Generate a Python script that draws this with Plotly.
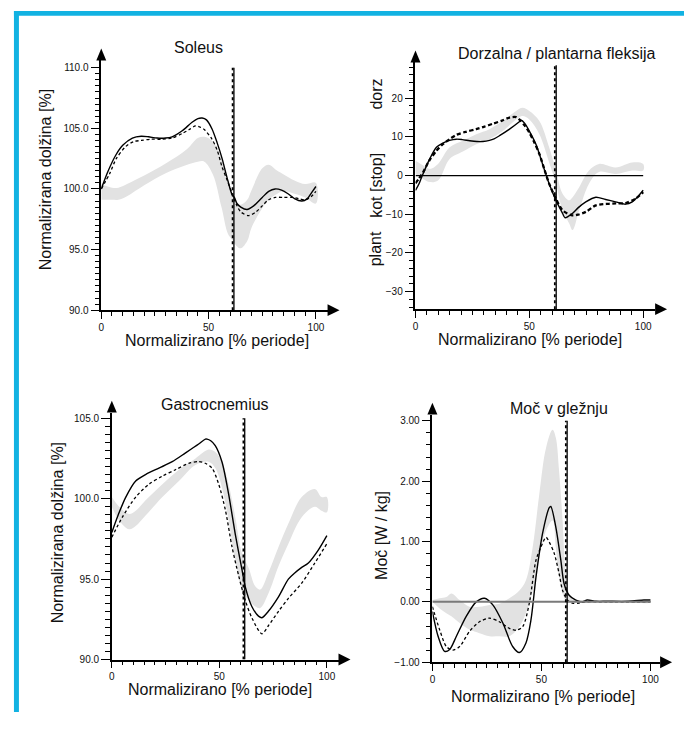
import plotly.graph_objects as go

W, H = 684, 730
FONT = "Liberation Sans, Arial, sans-serif"

# ---------------- data ----------------
# Soleus
sol_solid_x = [0, 3, 6.8, 10, 14.5, 18.6, 22, 26, 30, 33, 37.7, 42.3, 45, 47, 49, 51.6, 54, 56.3, 58.5, 61, 62, 63.2, 65, 67.9, 71, 75, 78, 81, 84, 87, 90, 93.4, 96, 98, 100]
sol_solid_y = [100.0, 101.4, 102.8, 103.6, 104.2, 104.35, 104.3, 104.2, 104.2, 104.3, 104.8, 105.5, 105.8, 105.85, 105.7, 104.95, 103.8, 102.5, 101.0, 99.5, 99.3, 98.8, 98.5, 98.3, 98.6, 99.3, 99.8, 100.0, 99.9, 99.6, 99.2, 99.0, 99.2, 99.7, 100.2]
sol_dash_x = [0, 4, 7, 11.4, 15, 18.6, 23, 28, 33, 38, 41, 43.9, 46, 48, 51.6, 54, 56.3, 58.5, 61, 63, 65, 68.6, 72, 75, 77.9, 81, 85, 89, 92, 95, 98, 100]
sol_dash_y = [100.0, 101.3, 102.5, 103.5, 103.9, 104.0, 104.1, 104.1, 104.2, 104.6, 104.9, 105.2, 105.1, 104.9, 104.1, 103.2, 101.8, 100.8, 99.6, 98.7, 98.1, 97.8, 98.1, 98.6, 99.1, 99.3, 99.3, 99.3, 99.2, 99.1, 99.4, 99.8]
sol_band_x = [0, 5, 8, 12, 20, 30, 40, 45, 48, 52, 56, 59, 61, 63, 65, 68, 70, 75, 78, 82, 85, 90, 95, 100]
sol_band_hi = [100.4, 100.1, 100.1, 100.4, 101.1, 102.1, 103.3, 104.2, 104.3, 103.9, 102.5, 100.5, 99.5, 98.9, 98.7, 99.1, 99.9, 101.7, 102.0, 101.5, 101.2, 100.7, 100.4, 100.5]
sol_band_lo = [99.1, 99.1, 99.1, 99.4, 100.3, 101.3, 102.0, 102.25, 102.25, 101.2, 98.5, 96.3, 95.8, 95.3, 95.1, 95.7, 96.8, 98.4, 99.1, 99.6, 99.8, 99.6, 99.3, 98.8]

# Dorzalna / plantarna fleksija
dor_solid_x = [0, 1.5, 3, 6, 9.2, 12, 15, 17.9, 20.5, 23.8, 27, 29.6, 32.5, 34.5, 36.9, 41.3, 45.6, 46.4, 48, 50, 52.9, 55.8, 58.7, 61.7, 64.6, 65.7, 68.9, 71.5, 74.8, 79.2, 83.5, 87.9, 92.3, 95.2, 98, 100]
dor_solid_y = [-3.85, -2.2, 0.0, 4.0, 7.3, 8.4, 9.1, 9.4, 9.3, 9.0, 8.8, 8.8, 9.1, 9.5, 10.3, 12.0, 13.9, 14.3, 13.5, 11.5, 8.1, 3.0, -2.1, -6.4, -9.8, -10.9, -9.8, -8.3, -6.8, -5.6, -6.2, -6.8, -7.4, -6.8, -5.2, -3.8]
dor_dash_x = [0, 1.5, 3.4, 6, 9.2, 12, 15, 17.9, 22, 26.7, 30, 34, 38, 41.3, 44.2, 45.6, 48, 50, 52, 54.4, 56.5, 58.7, 61.7, 64.6, 68.9, 71.5, 74.8, 79.2, 85, 88, 92.3, 96.6, 100]
dor_dash_y = [-2.0, -0.8, 0.9, 3.8, 6.4, 8.1, 9.4, 10.5, 11.3, 12.0, 12.6, 13.4, 14.2, 15.0, 15.1, 14.5, 12.9, 11.1, 8.8, 5.6, 1.8, -2.1, -6.0, -9.0, -10.3, -10.1, -9.4, -7.7, -7.3, -7.2, -7.1, -6.0, -4.3]
dor_band_x = [0, 3.4, 6.3, 9.9, 15, 20.8, 26.7, 32.5, 38.3, 44.2, 47, 50, 54.4, 58.7, 61.7, 64.6, 67.5, 69, 71.9, 76.2, 80.6, 87.9, 95.2, 100]
dor_band_hi = [3.8, 2.6, 1.7, 3.0, 7.3, 9.0, 10.7, 12.0, 14.1, 16.7, 17.5, 16.7, 14.1, 7.3, 1.3, -4.7, -6.4, -5.6, -3.0, 1.3, 3.0, 2.1, 3.4, 3.0]
dor_band_lo = [0.4, -0.9, -1.7, -1.3, 4.3, 6.2, 8.1, 9.4, 11.5, 14.5, 15.4, 14.5, 10.7, 3.4, -2.1, -9.0, -12.4, -14.1, -9.0, -2.1, 0.9, 0.4, 1.3, 1.3]

# Gastrocnemius
gas_solid_x = [0, 3, 6.5, 11.1, 15.7, 21.9, 28.1, 34.3, 40.4, 43.5, 44.3, 46, 48.1, 51.2, 54.3, 57.4, 60.5, 62, 65.1, 68.2, 69.8, 72.8, 77.5, 82.1, 85.2, 88, 91.4, 96, 100]
gas_solid_y = [97.9, 99.0, 100.1, 101.1, 101.5, 101.9, 102.3, 102.85, 103.4, 103.7, 103.7, 103.6, 103.3, 102.3, 100.3, 97.8, 95.6, 94.55, 93.3, 92.7, 92.6, 93.0, 93.9, 95.0, 95.4, 95.7, 96.0, 96.8, 97.7]
gas_dash_x = [0, 4.9, 11.1, 17.3, 23.5, 29.6, 35.8, 40.4, 43.5, 46.6, 49.7, 52.8, 55.9, 59, 62, 65.1, 69.8, 72.8, 77.5, 82.1, 88.3, 94.4, 100]
gas_dash_y = [97.6, 98.85, 100.1, 100.9, 101.4, 101.8, 102.2, 102.3, 102.2, 101.9, 100.9, 99.3, 97.0, 95.2, 93.7, 92.6, 91.6, 92.1, 93.0, 93.8, 94.75, 96.0, 97.2]
gas_band_x = [0, 3.4, 8, 11.1, 15.7, 23.5, 31.2, 38.9, 45, 48.1, 51.2, 54.3, 57.4, 60.5, 63.6, 66.7, 69, 72.8, 77.5, 82.1, 88.3, 94.4, 97.5, 100]
gas_band_hi = [100.1, 99.5, 99.05, 99.25, 99.9, 100.9, 101.8, 102.5, 103.05, 102.9, 102.3, 100.9, 98.85, 96.6, 95.7, 94.55, 94.35, 95.4, 97.0, 98.45, 100.1, 100.6, 100.1, 100.1]
gas_band_lo = [99.5, 98.65, 98.1, 98.3, 98.95, 100.1, 101.1, 102.1, 102.3, 101.9, 100.7, 98.65, 96.2, 94.35, 93.7, 93.3, 93.2, 94.1, 95.8, 97.2, 98.85, 99.5, 99.25, 99.15]

# Moč v gležnju
pow_solid_x = [0, 2.6, 5.6, 7.9, 11, 15.5, 20.1, 23.9, 27.7, 32.3, 36.8, 39.9, 42.9, 45.2, 47.5, 50.5, 53.6, 54.3, 56.6, 58.9, 60.4, 62.7, 65.8, 68.8, 71, 75, 80, 90, 97, 100]
pow_solid_y = [-0.16, -0.57, -0.82, -0.79, -0.57, -0.24, 0.0, 0.06, -0.05, -0.35, -0.74, -0.84, -0.68, -0.3, 0.41, 1.13, 1.56, 1.58, 1.24, 0.69, 0.30, 0.11, 0.03, 0.0, 0.03, 0.01, 0.01, 0.01, 0.03, 0.03]
pow_dash_x = [0, 3.3, 6.4, 9.4, 12.5, 17, 21.6, 26.2, 30.7, 35.3, 38.4, 41.4, 44.4, 47.5, 49.8, 52.1, 53.6, 55.9, 58.1, 59.7, 61.9, 64.2, 67.3, 70, 80, 100]
pow_dash_y = [-0.08, -0.46, -0.74, -0.80, -0.74, -0.49, -0.33, -0.27, -0.33, -0.44, -0.47, -0.41, -0.03, 0.69, 0.91, 1.07, 0.99, 0.8, 0.47, 0.19, 0.03, -0.02, -0.02, 0.0, 0.0, 0.0]
pow_band_x = [0, 3.3, 6.4, 8.7, 12.5, 17, 21.6, 26.2, 30.7, 35.3, 39.9, 42.9, 46, 49, 52.1, 55.1, 56.6, 58.1, 59.7, 61.2, 63.5, 66, 70, 80, 90, 100]
pow_band_hi = [0.03, 0.06, 0.08, 0.14, 0.03, -0.08, -0.08, -0.05, -0.03, 0.06, 0.19, 0.36, 0.91, 1.78, 2.55, 2.85, 2.72, 2.17, 1.35, 0.47, 0.08, 0.03, 0.02, 0.02, 0.02, 0.02]
pow_band_lo = [0.0, -0.11, -0.19, -0.24, -0.35, -0.46, -0.52, -0.57, -0.57, -0.57, -0.41, -0.19, 0.19, 0.74, 1.18, 1.35, 0.91, 0.41, 0.14, 0.03, 0.0, -0.01, -0.01, -0.01, -0.01, -0.01]

toe_off_solid = 61.8
toe_off_dashed = 61.2

titles = ["Soleus", "Dorzalna / plantarna fleksija", "Gastrocnemius", "Moč v gležnju"]
xtitle = "Normalizirano [% periode]"

# ---------------- layout geometry (pixels) ----------------
panels = [
    dict(px0=98.7, px100=314.3, pa=312.7, va=90, pb=68.3, vb=110, ybot=312.7, ytop=61, xr=326),
    dict(px0=414.3, px100=643.0, pa=294.0, va=-30, pb=99.0, vb=20, ybot=311.7, ytop=63, xr=655),
    dict(px0=109.3, px100=325.3, pa=665.0, va=90, pb=421.7, vb=105, ybot=665.0, ytop=416, xr=337),
    dict(px0=431.3, px100=650.3, pa=667.7, va=-1, pb=424.3, vb=3, ybot=667.7, ytop=418, xr=660),
]

fig = go.Figure()
layout = dict(width=W, height=H, margin=dict(l=0, r=0, t=0, b=0),
              paper_bgcolor="white", plot_bgcolor="white", showlegend=False,
              font=dict(family=FONT, color="#111111"))
shapes = []
annotations = []

def px2x(p):
    return p / W

def px2y(p):
    return 1 - p / H

ytick_major = [[90, 95, 100, 105, 110], [-30, -20, -10, 0, 10, 20], [90, 95, 100, 105], [-1, 0, 1, 2, 3]]
ytick_minor = [
    [90 + 0.5 * i for i in range(41) if (i % 10) != 0],
    [v for v in range(-34, 29, 2) if v % 10 != 0],
    [90 + 0.5 * i for i in range(31) if (i % 10) != 0],
    [round(-1 + 0.2 * i, 2) for i in range(21) if (i % 5) != 0],
]
yfmt = [".1f", "d", ".1f", ".2f"]
xminor = [v for v in range(5, 100, 5) if v != 50]

series = [
    (sol_band_x, sol_band_hi, sol_band_lo, sol_solid_x, sol_solid_y, sol_dash_x, sol_dash_y),
    (dor_band_x, dor_band_hi, dor_band_lo, dor_solid_x, dor_solid_y, dor_dash_x, dor_dash_y),
    (gas_band_x, gas_band_hi, gas_band_lo, gas_solid_x, gas_solid_y, gas_dash_x, gas_dash_y),
    (pow_band_x, pow_band_hi, pow_band_lo, pow_solid_x, pow_solid_y, pow_dash_x, pow_dash_y),
]
vline_top = [110, 28.5, 105, 3.0]

for i, p in enumerate(panels):
    k = "" if i == 0 else str(i + 1)
    ux = (p["px100"] - p["px0"]) / 100.0
    uy = (p["pa"] - p["pb"]) / (p["vb"] - p["va"])
    xrange_ = [0, (p["xr"] - p["px0"]) / ux]
    yrange_ = [p["va"] - (p["ybot"] - p["pa"]) / uy, p["vb"] + (p["pb"] - p["ytop"]) / uy]
    layout["xaxis" + k] = dict(
        domain=[px2x(p["px0"]), px2x(p["xr"])], range=xrange_, anchor="y" + k,
        showgrid=False, zeroline=False, showline=True, linecolor="black", linewidth=1.5,
        tickmode="array", tickvals=[0, 50, 100], ticks="outside", ticklen=7, tickwidth=1.3,
        tickcolor="black", tickfont=dict(size=10, family=FONT, color="#111"),
        minor=dict(tickmode="array", tickvals=xminor, ticks="outside", ticklen=4,
                   tickwidth=1.2, tickcolor="black"),
        fixedrange=True)
    layout["yaxis" + k] = dict(
        domain=[px2y(p["ybot"]), px2y(p["ytop"])], range=yrange_, anchor="x" + k,
        showgrid=False, zeroline=False, showline=True, linecolor="black", linewidth=1.5,
        tickmode="array", tickvals=ytick_major[i], tickformat=yfmt[i], ticks="outside",
        ticklen=9, tickwidth=1.3, tickcolor="black",
        tickfont=dict(size=10, family=FONT, color="#111"),
        minor=dict(tickmode="array", tickvals=ytick_minor[i], ticks="outside", ticklen=5,
                   tickwidth=1.2, tickcolor="black"),
        fixedrange=True)

    bx, bhi, blo, sx, sy, dx, dy = series[i]
    xa, ya = "x" + k, "y" + k
    fig.add_trace(go.Scatter(x=list(bx) + list(bx)[::-1], y=list(bhi) + list(blo)[::-1],
                             fill="toself", fillcolor="#e2e2e2", line=dict(width=0, shape="spline"),
                             mode="lines", hoverinfo="skip", xaxis=xa, yaxis=ya))
    if i == 1:
        shapes.append(dict(type="line", xref=xa, yref=ya, x0=0, x1=100, y0=0, y1=0,
                           line=dict(color="black", width=1.2)))
    if i == 3:
        shapes.append(dict(type="line", xref=xa, yref=ya, x0=0, x1=100, y0=0, y1=0,
                           line=dict(color="#7a7a7a", width=2)))
    dash_w = 2.3 if i == 1 else 1.3
    dash_pat = "4px,2.5px" if i == 1 else "3px,2.5px"
    fig.add_trace(go.Scatter(x=dx, y=dy, mode="lines", xaxis=xa, yaxis=ya,
                             line=dict(color="black", width=dash_w, dash=dash_pat,
                                       shape="spline", smoothing=0.8)))
    fig.add_trace(go.Scatter(x=sx, y=sy, mode="lines", xaxis=xa, yaxis=ya,
                             line=dict(color="black", width=1.4, shape="spline", smoothing=0.8)))
    shapes.append(dict(type="line", xref=xa, yref=ya, x0=toe_off_dashed, x1=toe_off_dashed,
                       y0=yrange_[0], y1=vline_top[i], line=dict(color="black", width=1.8, dash="dot")))
    shapes.append(dict(type="line", xref=xa, yref=ya, x0=toe_off_solid, x1=toe_off_solid,
                       y0=yrange_[0], y1=vline_top[i], line=dict(color="black", width=1.3)))
    x0p, yb, yt, xr = p["px0"], p["ybot"], p["ytop"], p["xr"]
    shapes.append(dict(type="path", xref="paper", yref="paper", fillcolor="black",
                       line=dict(width=0),
                       path=f"M {px2x(x0p-5)},{px2y(yt)} L {px2x(x0p+5)},{px2y(yt)} L {px2x(x0p)},{px2y(yt-12)} Z"))
    shapes.append(dict(type="path", xref="paper", yref="paper", fillcolor="black",
                       line=dict(width=0),
                       path=f"M {px2x(xr)},{px2y(yb-6)} L {px2x(xr)},{px2y(yb+6)} L {px2x(xr+12)},{px2y(yb)} Z"))

def ann(text, px, py, angle=0, size=16, xanchor="center"):
    annotations.append(dict(text=text, x=px2x(px), y=px2y(py), xref="paper", yref="paper",
                            showarrow=False, textangle=angle, xanchor=xanchor, yanchor="middle",
                            font=dict(size=size, family=FONT, color="#111")))

ann(titles[0], 196, 48)
ann(titles[1], 556, 54)
ann(titles[2], 212.5, 408)
ann(titles[3], 558, 412)
ann(xtitle, 215, 343)
ann(xtitle, 529, 342)
ann(xtitle, 218, 695)
ann(xtitle, 542, 702)
ann("Normalizirana dolžina [%]", 43, 181, angle=-90)
ann("Normalizirana dolžina [%]", 55, 537, angle=-90)
ann("Moč [W / kg]", 380, 540, angle=-90)
ann("dorz", 375, 95, angle=-90)
ann("kot [stop]", 375, 187, angle=-90)
ann("plant", 375, 251, angle=-90)

shapes.append(dict(type="rect", xref="paper", yref="paper", x0=px2x(11), x1=px2x(684),
                   y0=px2y(16), y1=px2y(11), fillcolor="#12b2e2", line=dict(width=0), layer="above"))
shapes.append(dict(type="rect", xref="paper", yref="paper", x0=px2x(11), x1=px2x(16),
                   y0=px2y(718), y1=px2y(11), fillcolor="#12b2e2", line=dict(width=0), layer="above"))

layout["shapes"] = shapes
layout["annotations"] = annotations
fig.update_layout(**layout)
fig.write_html("out.html", config={"displayModeBar": False},
               post_script="document.body.style.margin='0px';document.body.style.overflow='hidden';")
